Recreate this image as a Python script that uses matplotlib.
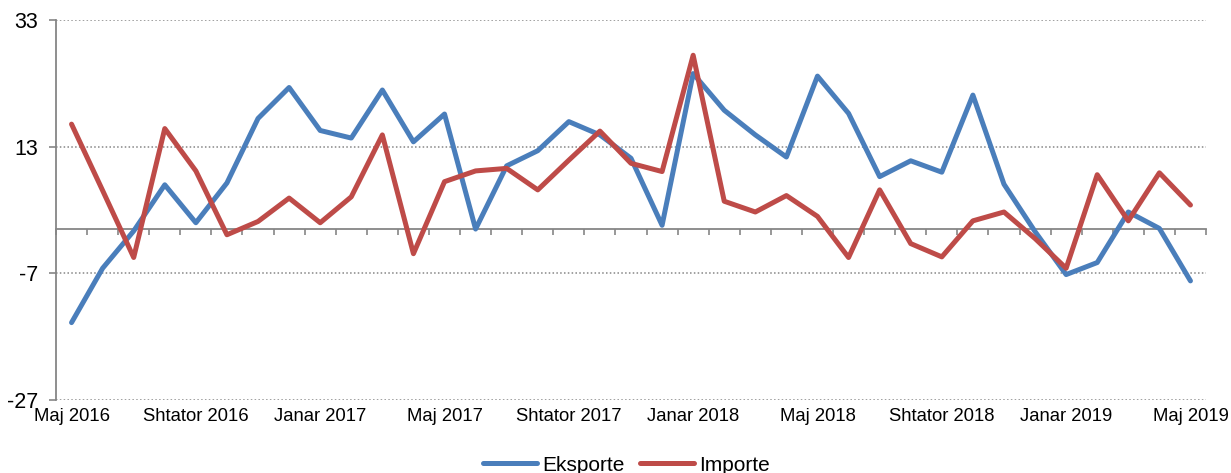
import matplotlib
matplotlib.use("Agg")
import matplotlib.pyplot as plt

# monthly data, Maj 2016 .. Maj 2019 (37 months)
eksporte = [-14.8, -6.2, -0.3, 7.0, 1.0, 7.3, 17.5, 22.4, 15.6, 14.4, 22.0, 13.8,
            18.2, 0.0, 10.0, 12.4, 17.0, 14.9, 11.2, 0.6, 24.6, 18.8, 14.9, 11.4,
            24.2, 18.3, 8.3, 10.8, 9.0, 21.2, 7.1, -0.4, -7.2, -5.3, 2.7, 0.1, -8.2]
importe = [16.6, 6.1, -4.5, 15.9, 9.2, -0.9, 1.2, 4.9, 1.0, 5.1, 14.9, -3.9,
           7.5, 9.2, 9.6, 6.2, 10.9, 15.5, 10.4, 9.1, 27.5, 4.4, 2.7, 5.3,
           2.0, -4.5, 6.2, -2.3, -4.4, 1.3, 2.7, -1.5, -6.2, 8.6, 1.3, 8.9, 3.8]

tick_labels = ["Maj 2016", "Shtator 2016", "Janar 2017", "Maj 2017", "Shtator 2017",
               "Janar 2018", "Maj 2018", "Shtator 2018", "Janar 2019", "Maj 2019"]
yticks = [-27, -7, 13, 33]

plt.rcParams['font.family'] = ['Liberation Sans', 'DejaVu Sans']
grey = '#868686'

fig = plt.figure(figsize=(12.31, 4.73), dpi=100)
ax = fig.add_axes([56 / 1231, 1 - 399.7 / 473, 1150 / 1231, 379.2 / 473])

x = list(range(len(eksporte)))
ax.plot(x, eksporte, color='#4A7EBB', lw=3.6, label='Eksporte', solid_capstyle='round')
ax.plot(x, importe, color='#BE4B48', lw=3.6, label='Importe', solid_capstyle='round')

ax.set_xlim(-0.5, len(x) - 0.5)
ax.set_ylim(yticks[0], yticks[-1])
ax.set_yticks(yticks)
ax.set_yticklabels([str(v) for v in yticks], fontsize=15.5)
ax.yaxis.grid(True, color=grey, linestyle=(0, (1, 1.5)), lw=1.1)
ax.set_axisbelow(True)

ax.set_xticks(x[::4])
ax.set_xticklabels(tick_labels, fontsize=13.3)
ax.tick_params(axis='x', length=0, pad=6)
ax.tick_params(axis='y', length=5, width=1.2, color=grey, pad=8)

for s in ['top', 'right', 'bottom']:
    ax.spines[s].set_visible(False)
ax.spines['left'].set_color(grey)
ax.spines['left'].set_linewidth(1.3)

# horizontal axis line at zero with category tick marks
zero_frac = (0 - yticks[0]) / (yticks[-1] - yticks[0])
sec = ax.secondary_xaxis(zero_frac)
sec.set_xticks([i - 0.5 for i in range(len(x) + 1)])
sec.set_xticklabels([])
sec.tick_params(axis='x', direction='out', length=4, width=1.2, color=grey)
sec.spines['bottom'].set_color(grey)
sec.spines['bottom'].set_linewidth(1.3)
sec.spines['top'].set_visible(False)
sec.xaxis.set_ticks_position('bottom')
ax.set_zorder(1)

fig.legend(loc='center', bbox_to_anchor=(0.5 + 11 / 1231, 1 - 465 / 473), ncol=2, frameon=False,
           fontsize=15, handlelength=2.6, handletextpad=0.25, columnspacing=0.7,
           borderaxespad=0)

fig.savefig('out.png', dpi=100)
